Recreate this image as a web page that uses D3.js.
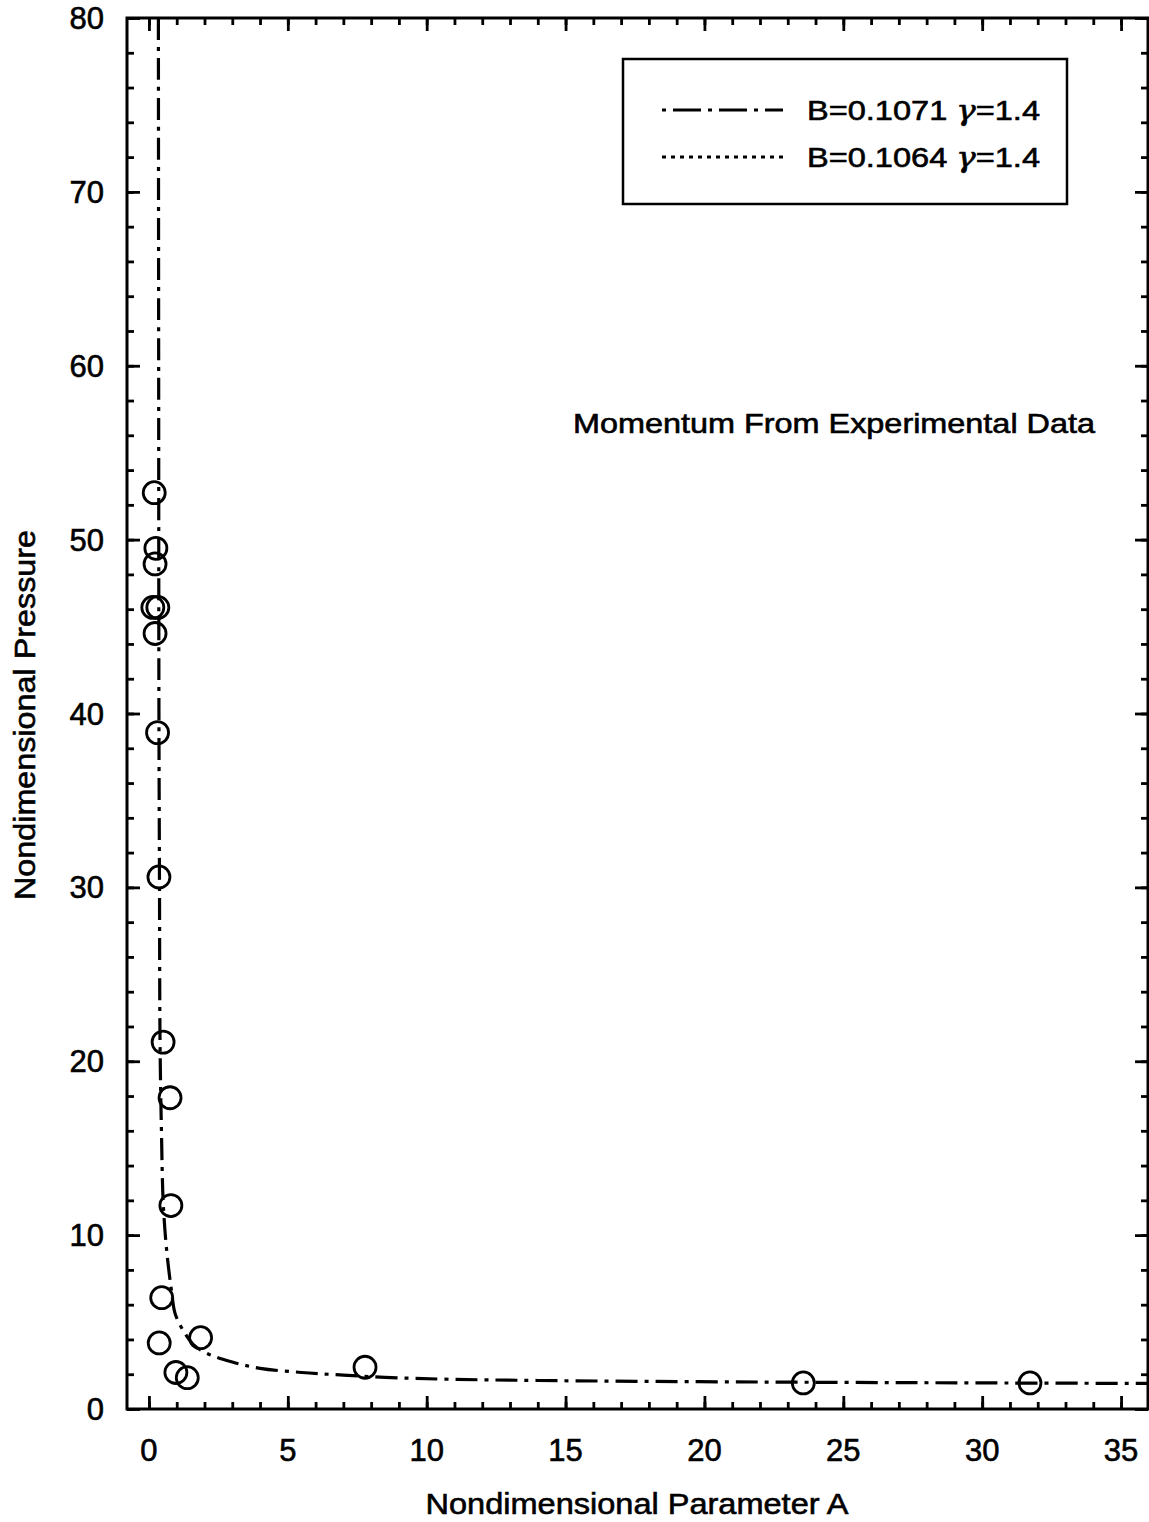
<!DOCTYPE html>
<html>
<head>
<meta charset="utf-8">
<script src="https://cdn.jsdelivr.net/npm/d3@7"></script>
<style>
  body { margin: 0; background: #fff; }
  svg text { font-family: "Liberation Sans", Arial, sans-serif; fill: #000; stroke: #000; stroke-width: 0.6px; }
</style>
</head>
<body>
<svg id="chart" width="1149" height="1522"></svg>
<script>
// measured points (circles)
var dataA = [0.19, 0.25, 0.22, 0.14, 0.32, 0.22, 0.31, 0.36, 0.51, 0.76, 0.79, 0.46, 0.37, 0.97, 1.38, 1.86, 7.78, 23.56, 31.72];
var dataP = [52.7, 49.5, 48.6, 46.1, 46.1, 44.6, 38.9, 30.6, 21.1, 17.9, 11.7, 6.4, 3.8, 2.1, 1.8, 4.1, 2.4, 1.5, 1.5];

// fitted curve, B=0.1071 gamma=1.4
var curveA = [0.34, 0.35, 0.36, 0.38, 0.40, 0.45, 0.51, 0.60, 0.70, 0.82, 0.94, 1.24, 1.6, 2.08, 3.0, 4.0, 5.5, 6.88, 8.5, 10.84, 14, 19.8, 25, 30, 36];
var curveP = [80, 60, 40, 30, 21, 16, 12, 9.8, 8.2, 6.7, 5.5, 4.5, 3.7, 3.2, 2.7, 2.34, 2.1, 1.96, 1.82, 1.71, 1.64, 1.57, 1.53, 1.5, 1.47];

var xTicks = [0, 5, 10, 15, 20, 25, 30, 35];
var yTicks = [0, 10, 20, 30, 40, 50, 60, 70, 80];

var legendLabels = ["B=0.1071 ", "B=0.1064 "];

var svg = d3.select("#chart");
var pLeft = 127, pRight = 1148, pTop = 18, pBottom = 1409;

var x = d3.scaleLinear().domain([-0.79, 35.97]).range([pLeft, pRight]);
var y = d3.scaleLinear().domain([0, 80]).range([pBottom, pTop]);

var dashDot = "22,7,4,7";

// minor ticks
var xMinor = d3.range(0, 36, 1);
var yMinor = d3.range(0, 81, 2);

function tickAxis(axisFn, scale, values, size, transform) {
  var g = svg.append("g")
    .attr("transform", transform)
    .call(axisFn(scale).tickValues(values).tickSize(size).tickFormat(""));
  g.select(".domain").remove();
  g.selectAll("line").attr("stroke", "#000").attr("stroke-width", 2.8);
  return g;
}

tickAxis(d3.axisBottom, x, xMinor, -7, "translate(0," + pBottom + ")");
tickAxis(d3.axisBottom, x, xTicks, -13, "translate(0," + pBottom + ")");
tickAxis(d3.axisTop, x, xMinor, -7, "translate(0," + pTop + ")");
tickAxis(d3.axisTop, x, xTicks, -13, "translate(0," + pTop + ")");
tickAxis(d3.axisLeft, y, yMinor, -7, "translate(" + pLeft + ",0)");
tickAxis(d3.axisLeft, y, yTicks, -13, "translate(" + pLeft + ",0)");
tickAxis(d3.axisRight, y, yMinor, -7, "translate(" + pRight + ",0)");
tickAxis(d3.axisRight, y, yTicks, -13, "translate(" + pRight + ",0)");

// tick labels
svg.append("g").selectAll("text").data(xTicks).enter().append("text")
  .attr("x", function(d) { return x(d); })
  .attr("y", 1461)
  .attr("text-anchor", "middle")
  .attr("font-size", 31)
  .text(function(d) { return d; });

svg.append("g").selectAll("text").data(yTicks).enter().append("text")
  .attr("x", 104)
  .attr("y", function(d) { return y(d) + 11; })
  .attr("text-anchor", "end")
  .attr("font-size", 31)
  .text(function(d) { return d; });

// frame
svg.append("rect")
  .attr("x", pLeft).attr("y", pTop)
  .attr("width", pRight - pLeft).attr("height", pBottom - pTop)
  .attr("fill", "none").attr("stroke", "#000").attr("stroke-width", 3);

// curve
var curveData = curveA.map(function(a, i) { return [a, curveP[i]]; });
var line = d3.line()
  .x(function(d) { return x(d[0]); })
  .y(function(d) { return y(d[1]); })
  .curve(d3.curveCatmullRom.alpha(0.5));

svg.append("path")
  .datum(curveData)
  .attr("d", line)
  .attr("fill", "none")
  .attr("stroke", "#000")
  .attr("stroke-width", 3.2)
  .attr("stroke-dasharray", dashDot);

// points
var pts = dataA.map(function(a, i) { return [a, dataP[i]]; });
svg.append("g").selectAll("circle").data(pts).enter().append("circle")
  .attr("cx", function(d) { return x(d[0]); })
  .attr("cy", function(d) { return y(d[1]); })
  .attr("r", 11)
  .attr("fill", "none")
  .attr("stroke", "#000")
  .attr("stroke-width", 2.8);

// legend
var lg = svg.append("g");
lg.append("rect")
  .attr("x", 623).attr("y", 59).attr("width", 444).attr("height", 145)
  .attr("fill", "#fff").attr("stroke", "#000").attr("stroke-width", 2.5);
var legendDash = ["4,7,28,7", "4,5"];
legendLabels.forEach(function(lbl, i) {
  var ly = 110 + i * 47;
  lg.append("line")
    .attr("x1", 662).attr("x2", 783).attr("y1", ly).attr("y2", ly)
    .attr("stroke", "#000").attr("stroke-width", 3)
    .attr("stroke-dasharray", legendDash[i]);
  var t = lg.append("text")
    .attr("x", 807).attr("y", ly + 10)
    .attr("font-size", 28)
    .attr("textLength", 233)
    .attr("lengthAdjust", "spacingAndGlyphs")
    .text(lbl);
  t.append("tspan").attr("font-family", "DejaVu Serif").attr("font-style", "italic").text("\u03b3");
  t.append("tspan").text("=1.4");
});

// annotation
svg.append("text")
  .attr("x", 573).attr("y", 433)
  .attr("font-size", 28)
  .attr("textLength", 522)
  .attr("lengthAdjust", "spacingAndGlyphs")
  .text("Momentum From Experimental Data");

// axis titles
svg.append("text")
  .attr("x", 637).attr("y", 1514)
  .attr("text-anchor", "middle")
  .attr("font-size", 30)
  .attr("textLength", 423)
  .attr("lengthAdjust", "spacingAndGlyphs")
  .text("Nondimensional Parameter A");

svg.append("text")
  .attr("transform", "translate(35,715) rotate(-90)")
  .attr("text-anchor", "middle")
  .attr("font-size", 30)
  .attr("textLength", 370)
  .attr("lengthAdjust", "spacingAndGlyphs")
  .text("Nondimensional Pressure");
</script>
</body>
</html>
